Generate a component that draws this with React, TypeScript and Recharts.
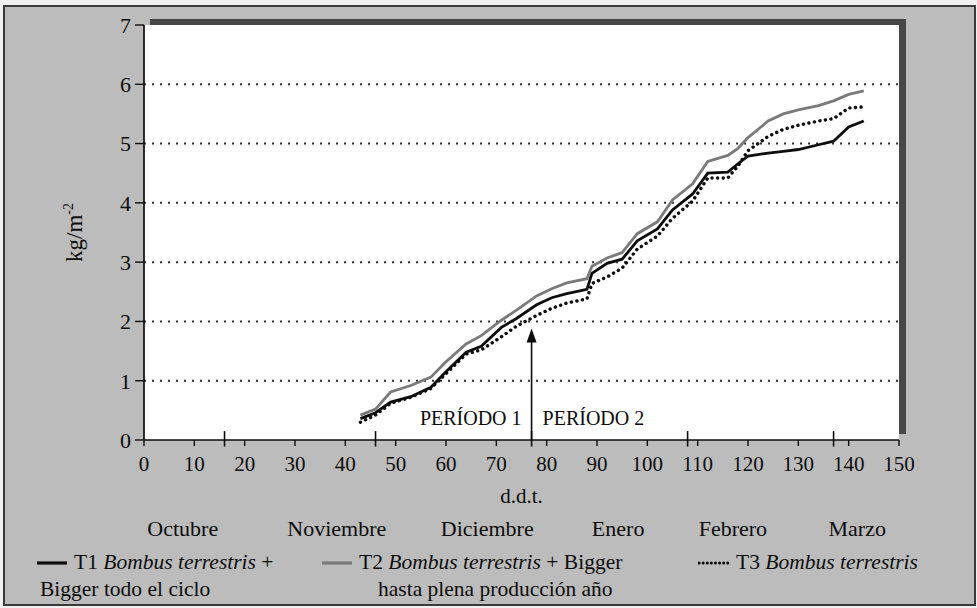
import {
	CartesianGrid,
	Label,
	Legend,
	Line,
	LineChart,
	ReferenceDot,
	ReferenceLine,
	XAxis,
	YAxis,
} from 'recharts'

// días después del trasplante (d.d.t.)
const days = [43, 46, 49, 53, 57, 60, 64, 67, 71, 74, 78, 81, 84, 88, 89, 92, 95, 98, 102, 105, 109, 112, 116, 118, 120, 124, 127, 130, 134, 137, 140, 143]
const t1 = [0.36, 0.46, 0.64, 0.73, 0.89, 1.15, 1.48, 1.58, 1.9, 2.05, 2.28, 2.4, 2.47, 2.54, 2.81, 2.98, 3.05, 3.36, 3.56, 3.88, 4.15, 4.5, 4.52, 4.66, 4.79, 4.84, 4.87, 4.9, 4.98, 5.04, 5.28, 5.38]
const t2 = [0.42, 0.52, 0.81, 0.92, 1.06, 1.32, 1.62, 1.76, 2.02, 2.19, 2.43, 2.55, 2.65, 2.72, 2.93, 3.07, 3.16, 3.48, 3.68, 4.05, 4.32, 4.7, 4.8, 4.92, 5.1, 5.38, 5.5, 5.57, 5.64, 5.72, 5.83, 5.89]
const t3 = [0.3, 0.42, 0.62, 0.72, 0.87, 1.12, 1.45, 1.52, 1.74, 1.92, 2.1, 2.22, 2.31, 2.38, 2.64, 2.75, 2.9, 3.22, 3.44, 3.74, 4.03, 4.42, 4.42, 4.62, 4.88, 5.12, 5.24, 5.31, 5.38, 5.42, 5.6, 5.62]

const xTicks = [0, 10, 20, 30, 40, 50, 60, 70, 80, 90, 100, 110, 120, 130, 140, 150]
const yTicks = [0, 1, 2, 3, 4, 5, 6, 7]
const gridValues = [1, 2, 3, 4, 5, 6]

const monthNames = ['Octubre', 'Noviembre', 'Diciembre', 'Enero', 'Febrero', 'Marzo']
const monthCenters = [7.7, 38.3, 68.2, 94.2, 117, 141.7]
const monthBounds = [16, 46, 77, 108, 137]

const periodSplit = 77
const arrowTop = 1.88
const periodLabels = ['PERÍODO 1', 'PERÍODO 2']

const legendCode = ['T1', 'T2', 'T3']
const legendSpecies = ['Bombus terrestris', 'Bombus terrestris', 'Bombus terrestris']
const legendTail = [' +', ' + Bigger', '']
const legendSecond = ['Bigger todo el ciclo', 'hasta plena producción año', '']

const data = days.map((d, i) => ({ ddt: d, t1: t1[i], t2: t2[i], t3: t3[i] }))

const serif = '"Liberation Serif", "Times New Roman", serif'
const ink = '#0d0d0d'

const series = [
	{ key: 't1', color: ink, width: 2.8, dash: undefined as string | undefined },
	{ key: 't2', color: '#7a7a7a', width: 2.8, dash: undefined as string | undefined },
	{ key: 't3', color: ink, width: 3.4, dash: '0.1 5.5' },
]

const legendPos = [
	{ left: 36, second: 40 },
	{ left: 321, second: 378 },
	{ left: 698, second: 0 },
]

const YTitle = (props: any) => {
	const { viewBox } = props
	const cx = viewBox.x + viewBox.width * 0.57
	const cy = viewBox.y + viewBox.height / 2
	return (
		<text
			x={cx}
			y={cy}
			transform={`rotate(-90 ${cx} ${cy})`}
			textAnchor='middle'
			fontFamily={serif}
			fontSize={23}
			fill={ink}
		>
			kg/m<tspan fontSize={14} dy={-9}>-2</tspan>
		</text>
	)
}

const Arrowhead = (props: any) => (
	<path d={`M${props.cx},${props.cy} l-5,14 l10,0 z`} fill={ink} />
)

const LegendBox = () => (
	<div
		style={{
			position: 'relative',
			width: 977,
			height: 56,
			fontFamily: serif,
			fontSize: 21.5,
			color: ink,
			lineHeight: '27px',
		}}
	>
		{series.map((s, i) => (
			<div key={s.key}>
				<div
					style={{
						position: 'absolute',
						left: legendPos[i].left,
						top: 7,
						whiteSpace: 'nowrap',
						display: 'flex',
						alignItems: 'center',
					}}
				>
					<svg width={32} height={10} style={{ marginRight: 6 }}>
						<line
							x1={1}
							y1={5}
							x2={31}
							y2={5}
							stroke={s.color}
							strokeWidth={s.dash ? 3 : 3.2}
							strokeDasharray={s.dash ? '0.1 4' : undefined}
							strokeLinecap={s.dash ? 'round' : 'butt'}
						/>
					</svg>
					<span>
						{legendCode[i]} <i>{legendSpecies[i]}</i>
						{legendTail[i]}
					</span>
				</div>
				{legendSecond[i] && (
					<div
						style={{
							position: 'absolute',
							left: legendPos[i].second,
							top: 34,
							whiteSpace: 'nowrap',
						}}
					>
						{legendSecond[i]}
					</div>
				)}
			</div>
		))}
	</div>
)

const App = () => {
	return (
		<div style={{ position: 'absolute', left: 0, top: 0, width: 977, height: 608, background: '#f0f0f0' }}>
			<div
				style={{
					position: 'absolute',
					left: 3,
					top: 5,
					width: 973,
					height: 601,
					background: '#bcbcbc',
					border: '2px solid #3a3a3a',
					boxSizing: 'border-box',
				}}
			/>
			<div style={{ position: 'absolute', left: 150, top: 19, width: 756, height: 415, background: '#474747' }} />
			<div style={{ position: 'absolute', left: 0, top: 0 }}>
				<LineChart
					width={977}
					height={608}
					data={data}
					margin={{ top: 25, right: 78, left: 0, bottom: 10 }}
				>
					<CartesianGrid
						vertical={false}
						fill='#fff'
						fillOpacity={1}
						horizontalValues={gridValues}
						stroke='#333'
						strokeWidth={2}
						strokeDasharray='2 6'
					/>
					<XAxis
						dataKey='ddt'
						type='number'
						domain={[0, 150]}
						ticks={xTicks}
						interval={0}
						height={80}
						tickSize={6}
						tickMargin={10}
						axisLine={{ stroke: ink, strokeWidth: 1.7 }}
						tickLine={{ stroke: ink, strokeWidth: 1.4 }}
						tick={{ fontSize: 21, fill: ink, fontFamily: serif }}
					>
						<Label
							value='d.d.t.'
							position='insideBottom'
							offset={17}
							fontSize={21}
							fill={ink}
							fontFamily={serif}
						/>
					</XAxis>
					<XAxis
						xAxisId='month'
						dataKey='ddt'
						type='number'
						domain={[0, 150]}
						ticks={monthCenters}
						interval={0}
						height={22}
						tickSize={0}
						tickMargin={0}
						axisLine={false}
						tickLine={false}
						tickFormatter={(v: number) => monthNames[monthCenters.indexOf(v)]}
						tick={{ fontSize: 22, fill: ink, fontFamily: serif }}
					/>
					<YAxis
						type='number'
						domain={[0, 7]}
						ticks={yTicks}
						interval={0}
						width={144}
						tickSize={9}
						tickMargin={4}
						axisLine={{ stroke: ink, strokeWidth: 1.7 }}
						tickLine={{ stroke: ink, strokeWidth: 1.4 }}
						tick={{ fontSize: 22, fill: ink, fontFamily: serif }}
					>
						<Label content={YTitle} />
					</YAxis>
					{monthBounds.map((b) => (
						<ReferenceLine
							key={b}
							segment={[
								{ x: b, y: -0.11 },
								{ x: b, y: 0.15 },
							]}
							stroke={ink}
							strokeWidth={1.6}
							ifOverflow='visible'
						/>
					))}
					<ReferenceLine
						segment={[
							{ x: periodSplit, y: 0 },
							{ x: periodSplit, y: arrowTop - 0.2 },
						]}
						stroke={ink}
						strokeWidth={1.6}
						ifOverflow='visible'
					/>
					<ReferenceDot x={periodSplit} y={arrowTop} r={4} shape={Arrowhead} />
					<ReferenceDot
						x={periodSplit}
						y={0.38}
						r={0}
						fill='none'
						stroke='none'
						label={{ value: periodLabels[0], position: 'left', offset: 10, fontSize: 20, fill: ink, fontFamily: serif }}
					/>
					<ReferenceDot
						x={periodSplit}
						y={0.38}
						r={0}
						fill='none'
						stroke='none'
						label={{ value: periodLabels[1], position: 'right', offset: 11, fontSize: 20, fill: ink, fontFamily: serif }}
					/>
					{series.map((s) => (
						<Line
							key={s.key}
							type='linear'
							dataKey={s.key}
							stroke={s.color}
							strokeWidth={s.width}
							strokeDasharray={s.dash}
							strokeLinecap={s.dash ? 'round' : 'butt'}
							dot={false}
							activeDot={false}
							isAnimationActive={false}
						/>
					))}
					<Legend
						verticalAlign='bottom'
						width={977}
						wrapperStyle={{ left: 0, bottom: 10 }}
						content={LegendBox}
					/>
				</LineChart>
			</div>
		</div>
	)
}

export default App
